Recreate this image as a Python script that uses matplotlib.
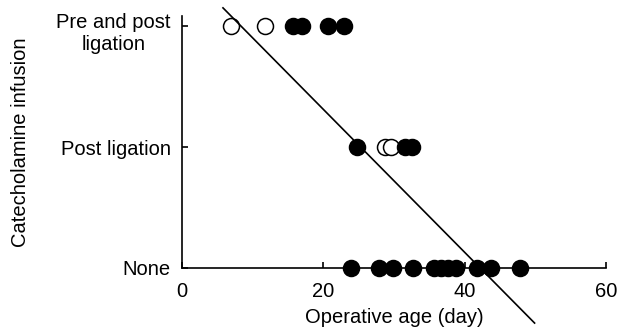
import numpy as np
import matplotlib.pyplot as plt
from matplotlib.transforms import ScaledTranslation

plt.rcParams['font.family'] = ['Liberation Sans', 'DejaVu Sans']

# operative age (day) for each group
pre_post_open = [6.9, 11.7]
pre_post_filled = [15.7, 17.0, 20.7, 22.9]
post_open = [28.7, 29.6]
post_filled = [24.8, 31.6, 32.6]
none_filled = [23.9, 27.9, 29.8, 32.7, 35.6, 36.6, 37.6, 38.8, 41.7, 43.8, 47.9]

levels = [0, 1, 2]
level_labels = ['None', 'Post ligation', 'Pre and post\nligation']
xticks = [0, 20, 40, 60]

# regression line end points
fit_x = [5.8, 49.9]
fit_y = [2.15, -0.455]

fig = plt.figure(figsize=(6.18, 3.36), dpi=100)
ax = fig.add_axes([0.2945, 0.2024, 0.686, 0.749])

ms = 11.5
open_kw = dict(linestyle='none', marker='o', ms=ms, mfc='white', mec='black', mew=1.1, clip_on=False)
fill_kw = dict(linestyle='none', marker='o', ms=ms, mfc='black', mec='black', mew=1.1, clip_on=False)

for x in pre_post_open:
    ax.plot([x], [2], **open_kw)
ax.plot(pre_post_filled, [2] * len(pre_post_filled), **fill_kw)
for x in post_open:
    ax.plot([x], [1], **open_kw)
ax.plot(post_filled, [1] * len(post_filled), **fill_kw)
ax.plot(none_filled, [0] * len(none_filled), **fill_kw)

ax.plot(fit_x, fit_y, color='black', lw=1.2, clip_on=False, zorder=5)

ax.set_xlim(0, 60)
ax.set_ylim(0, 2.08)
ax.set_xticks(xticks)
ax.set_yticks(levels)
ax.set_yticklabels(level_labels, multialignment='center', linespacing=1.2)

for s in ['top', 'right']:
    ax.spines[s].set_visible(False)
for s in ['left', 'bottom']:
    ax.spines[s].set_linewidth(1.2)

fs = 14.5
ax.tick_params(direction='in', length=4, width=1.2, labelsize=fs)
ax.tick_params(axis='x', pad=10)
ax.tick_params(axis='y', pad=8)

# nudge the two-line top label down a little
top = ax.get_yticklabels()[2]
top.set_transform(top.get_transform() + ScaledTranslation(0, -0.035, fig.dpi_scale_trans))

ax.set_xlabel('Operative age (day)', fontsize=fs, labelpad=5)
ax.set_ylabel('Catecholamine infusion', fontsize=fs, labelpad=19)

fig.savefig('out.png', dpi=100)
